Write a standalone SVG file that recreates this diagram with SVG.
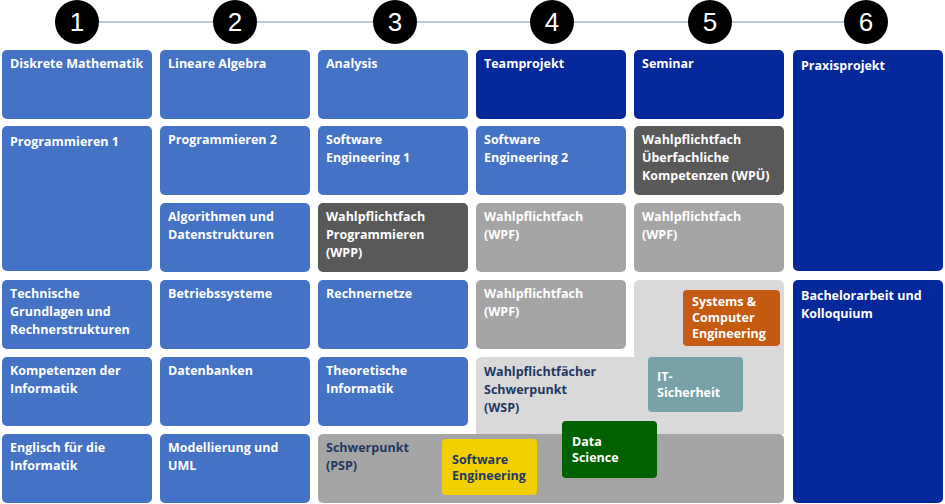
<svg xmlns="http://www.w3.org/2000/svg" width="945" height="504" viewBox="0 0 945 504">
<style>
.b{fill:#4472C4}.n{fill:#05289A}.dg{fill:#595959}.g{fill:#A5A5A5}
text{font-family:"Open Sans","Liberation Sans",sans-serif;font-weight:bold;font-size:12.5px;fill:#fff}
.dt{fill:#1F3864}
.num{font-family:"Liberation Sans",sans-serif;font-weight:normal;font-size:26px;text-anchor:middle}
</style>
<rect width="945" height="504" fill="#fff"/>
<g id="connectors"><line x1="77" y1="22" x2="866" y2="22" stroke="#A6B4CC" stroke-width="1.5"/></g>
<g id="steps">
<circle cx="77" cy="22" r="22" fill="#000"/><text class="num" x="77" y="31">1</text>
<circle cx="235" cy="22" r="22" fill="#000"/><text class="num" x="235" y="31">2</text>
<circle cx="395" cy="22" r="22" fill="#000"/><text class="num" x="395" y="31">3</text>
<circle cx="552" cy="22" r="22" fill="#000"/><text class="num" x="552" y="31">4</text>
<circle cx="710" cy="22" r="22" fill="#000"/><text class="num" x="710" y="31">5</text>
<circle cx="866" cy="22" r="22" fill="#000"/><text class="num" x="866" y="31">6</text>
</g>
<g id="wsp-area"><path d="M640 280H778Q784 280 784 286V434H476V363Q476 357 482 357H634V286Q634 280 640 280Z" fill="#D9D9D9"/><text class="dt" x="484" y="376">Wahlpflichtfächer</text><text class="dt" x="484" y="394">Schwerpunkt</text><text class="dt" x="484" y="412">(WSP)</text></g>
<g id="psp"><rect x="318" y="434" width="466" height="69" rx="5" class="g"/><text class="dt" x="326" y="452">Schwerpunkt</text><text class="dt" x="326" y="470">(PSP)</text></g>
<g id="c1">
<g id="dm"><rect x="2" y="50" width="150" height="69" rx="5" class="b"/><text x="10" y="68">Diskrete Mathematik</text></g>
<g id="p1"><rect x="2" y="126" width="150" height="145" rx="5" class="b"/><text x="10" y="146">Programmieren 1</text></g>
<g id="tg"><rect x="2" y="280" width="150" height="69" rx="5" class="b"/><text x="10" y="298">Technische</text><text x="10" y="316">Grundlagen und</text><text x="10" y="334">Rechnerstrukturen</text></g>
<g id="ki"><rect x="2" y="357" width="150" height="69" rx="5" class="b"/><text x="10" y="375">Kompetenzen der</text><text x="10" y="393">Informatik</text></g>
<g id="en"><rect x="2" y="434" width="150" height="69" rx="5" class="b"/><text x="10" y="452">Englisch für die</text><text x="10" y="470">Informatik</text></g>
</g>
<g id="c2">
<g id="la"><rect x="160" y="50" width="150" height="69" rx="5" class="b"/><text x="168" y="68">Lineare Algebra</text></g>
<g id="p2"><rect x="160" y="126" width="150" height="69" rx="5" class="b"/><text x="168" y="144">Programmieren 2</text></g>
<g id="ad"><rect x="160" y="203" width="150" height="69" rx="5" class="b"/><text x="168" y="221">Algorithmen und</text><text x="168" y="239">Datenstrukturen</text></g>
<g id="bs"><rect x="160" y="280" width="150" height="69" rx="5" class="b"/><text x="168" y="298">Betriebssysteme</text></g>
<g id="db"><rect x="160" y="357" width="150" height="69" rx="5" class="b"/><text x="168" y="375">Datenbanken</text></g>
<g id="mu"><rect x="160" y="434" width="150" height="69" rx="5" class="b"/><text x="168" y="452">Modellierung und</text><text x="168" y="470">UML</text></g>
</g>
<g id="c3">
<g id="an"><rect x="318" y="50" width="150" height="69" rx="5" class="b"/><text x="326" y="68">Analysis</text></g>
<g id="se1"><rect x="318" y="126" width="150" height="69" rx="5" class="b"/><text x="326" y="144">Software</text><text x="326" y="162">Engineering 1</text></g>
<g id="wpp"><rect x="318" y="203" width="150" height="69" rx="5" class="dg"/><text x="326" y="221">Wahlpflichtfach</text><text x="326" y="239">Programmieren</text><text x="326" y="257">(WPP)</text></g>
<g id="rn"><rect x="318" y="280" width="150" height="69" rx="5" class="b"/><text x="326" y="298">Rechnernetze</text></g>
<g id="ti"><rect x="318" y="357" width="150" height="69" rx="5" class="b"/><text x="326" y="375">Theoretische</text><text x="326" y="393">Informatik</text></g>
</g>
<g id="c4">
<g id="tp"><rect x="476" y="50" width="150" height="69" rx="5" class="n"/><text x="484" y="68">Teamprojekt</text></g>
<g id="se2"><rect x="476" y="126" width="150" height="69" rx="5" class="b"/><text x="484" y="144">Software</text><text x="484" y="162">Engineering 2</text></g>
<g id="wpf1"><rect x="476" y="203" width="150" height="69" rx="5" class="g"/><text x="484" y="221">Wahlpflichtfach</text><text x="484" y="239">(WPF)</text></g>
<g id="wpf2"><rect x="476" y="280" width="150" height="69" rx="5" class="g"/><text x="484" y="298">Wahlpflichtfach</text><text x="484" y="316">(WPF)</text></g>
</g>
<g id="c5">
<g id="sem"><rect x="634" y="50" width="150" height="69" rx="5" class="n"/><text x="642" y="68">Seminar</text></g>
<g id="wpu"><rect x="634" y="126" width="150" height="69" rx="5" class="dg"/><text x="642" y="144">Wahlpflichtfach</text><text x="642" y="162">Überfachliche</text><text x="642" y="180">Kompetenzen (WPÜ)</text></g>
<g id="wpf3"><rect x="634" y="203" width="150" height="69" rx="5" class="g"/><text x="642" y="221">Wahlpflichtfach</text><text x="642" y="239">(WPF)</text></g>
</g>
<g id="c6">
<g id="pp"><rect x="793" y="50" width="150" height="221" rx="5" class="n"/><text x="801" y="70">Praxisprojekt</text></g>
<g id="ba"><rect x="793" y="280" width="150" height="223" rx="5" class="n"/><text x="801" y="300">Bachelorarbeit und</text><text x="801" y="318">Kolloquium</text></g>
</g>
<g id="sce"><rect x="683" y="290" width="97" height="56" rx="4" fill="#C55A11"/><text x="692" y="306">Systems &amp;</text><text x="692" y="322">Computer</text><text x="692" y="338">Engineering</text></g>
<g id="its"><rect x="648" y="357" width="95" height="55" rx="4" fill="#76A2A8"/><text x="657" y="381">IT-</text><text x="657" y="397">Sicherheit</text></g>
<g id="ds"><rect x="562" y="421" width="95" height="57" rx="4" fill="#006100"/><text x="572" y="446">Data</text><text x="572" y="462">Science</text></g>
<g id="se"><rect x="442" y="439" width="95" height="56" rx="4" fill="#F2D000"/><text class="dt" x="452" y="464">Software</text><text class="dt" x="452" y="480">Engineering</text></g>
</svg>
